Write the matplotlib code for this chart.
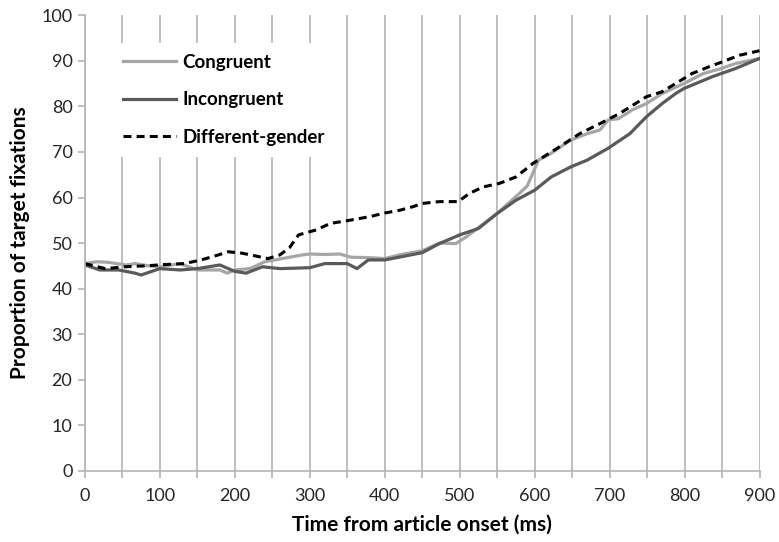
import matplotlib
matplotlib.use('Agg')
import matplotlib.pyplot as plt
from matplotlib.ticker import MultipleLocator

# values (time in ms, proportion in %)
cong_t = [0, 15, 30, 55, 67, 85, 100, 127, 150, 180, 190, 200, 220, 240, 263,
          290, 300, 320, 340, 355, 380, 400, 422, 450, 473, 495, 510, 525, 550,
          575, 590, 598, 605, 622, 648, 670, 687, 698, 712, 730, 749, 770, 799,
          825, 849, 868, 900]
cong_v = [45.5, 45.9, 45.8, 45.2, 45.5, 45.0, 44.8, 45.5, 44.1, 44.1, 43.4, 44.1,
          44.4, 45.9, 46.6, 47.4, 47.6, 47.5, 47.6, 46.9, 46.8, 46.6, 47.5, 48.3,
          50.0, 49.9, 51.5, 53.4, 56.5, 60.2, 62.5, 65.5, 68.2, 69.7, 72.6, 74.0,
          74.8, 77.0, 77.3, 79.2, 80.6, 82.8, 85.0, 87.2, 88.3, 89.4, 90.5]

incong_t = [0, 20, 45, 67, 75, 100, 127, 150, 180, 200, 215, 237, 260, 300, 320,
            350, 363, 378, 400, 422, 450, 473, 500, 525, 550, 575, 600, 622, 648,
            670, 698, 727, 749, 770, 788, 799, 815, 837, 849, 868, 900]
incong_v = [45.2, 44.1, 44.1, 43.4, 43.0, 44.4, 44.1, 44.4, 45.2, 43.8, 43.4, 44.8,
            44.4, 44.6, 45.5, 45.5, 44.4, 46.3, 46.3, 47.0, 47.9, 49.9, 51.8, 53.2,
            56.5, 59.4, 61.6, 64.5, 66.7, 68.2, 70.8, 74.0, 77.7, 80.6, 82.8, 83.9,
            85.0, 86.5, 87.2, 88.3, 90.5]

diff_t = [0, 27, 53, 80, 107, 133, 155, 178, 191, 209, 227, 244, 260, 273, 285,
          309, 327, 353, 380, 400, 420, 438, 450, 473, 498, 513, 531, 553, 575,
          598, 633, 660, 687, 713, 749, 770, 788, 810, 833, 851, 873, 900]
diff_v = [45.5, 44.4, 44.8, 45.0, 45.3, 45.5, 46.3, 47.4, 48.1, 47.8, 47.2, 46.6,
          47.4, 49.0, 51.8, 52.9, 54.3, 55.0, 55.8, 56.6, 57.2, 58.0, 58.7, 59.1,
          59.1, 60.9, 62.3, 63.1, 64.5, 67.5, 71.1, 74.0, 76.2, 78.4, 82.1, 83.2,
          85.0, 87.2, 88.7, 89.8, 91.2, 92.2]

plt.rcParams['font.family'] = ['Lato', 'DejaVu Sans']

fig = plt.figure(figsize=(7.79, 5.42), dpi=100)
ax = fig.add_axes([0.109, 0.131, 0.866, 0.841])

gray = '#b4b4b4'
ax.plot(cong_t, cong_v, color='#a6a6a6', lw=2.3, label='Congruent')
ax.plot(incong_t, incong_v, color='#5a5a5a', lw=2.3, label='Incongruent')
ax.plot(diff_t, diff_v, color='black', lw=2.2, dashes=(2.6, 1.7),
        label='Different-gender')

ax.set_xlim(0, 900)
ax.set_ylim(0, 100)
ax.xaxis.set_major_locator(MultipleLocator(100))
ax.xaxis.set_minor_locator(MultipleLocator(50))
ax.yaxis.set_major_locator(MultipleLocator(10))
ax.grid(True, axis='x', which='both', color=gray, lw=1.2)
ax.set_axisbelow(True)

for s in ['top', 'right']:
    ax.spines[s].set_visible(False)
for s in ['left', 'bottom']:
    ax.spines[s].set_color(gray)
    ax.spines[s].set_linewidth(1.2)
ax.tick_params(axis='both', which='both', direction='out', color=gray,
               width=1.2, length=5, labelsize=13, labelcolor='#262626')
ax.tick_params(axis='x', pad=7)
ax.tick_params(axis='y', pad=4)

ax.set_xlabel('Time from article onset (ms)', fontsize=15, fontweight='bold',
              labelpad=8)
ax.set_ylabel('Proportion of target fixations', fontsize=15, fontweight='bold',
              labelpad=8)

leg = ax.legend(loc='upper left', bbox_to_anchor=(0.026, 0.96), fontsize=13.5,
                handlelength=2.8, labelspacing=1.08, handletextpad=0.35,
                frameon=True, fancybox=False, framealpha=1, borderpad=0.6)
leg.get_frame().set_edgecolor('none')
leg.get_frame().set_facecolor('white')
for t in leg.get_texts():
    t.set_fontweight('bold')

fig.savefig('out.png', dpi=100)
